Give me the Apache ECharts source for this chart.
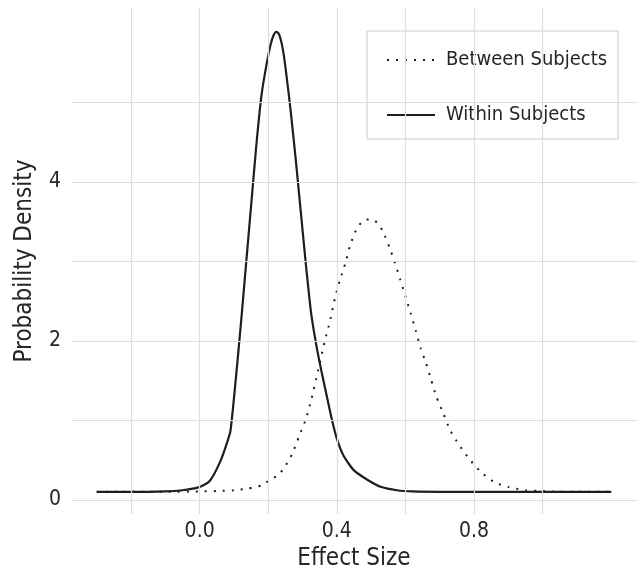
<!DOCTYPE html>
<html>
<head>
<meta charset="utf-8">
<script src="https://cdn.jsdelivr.net/npm/echarts@6/dist/echarts.min.js"></script>
<style>
html,body{margin:0;padding:0;background:#fff;}
#chart{width:637px;height:576px;}
</style>
</head>
<body>
<div id="chart"></div>
<script>
// Within Subjects density curve
const withinX = [-0.30,-0.25,-0.20,-0.15,-0.10,-0.05,-0.02,0.00,0.03,0.06,0.08,0.09,0.105,0.12,0.135,0.15,0.165,0.18,0.195,0.207,0.215,0.223,0.23,0.236,0.243,0.25,0.265,0.28,0.295,0.31,0.325,0.34,0.355,0.37,0.385,0.40,0.42,0.45,0.49,0.53,0.575,0.62,0.70,0.80,0.90,1.00,1.10,1.20];
const withinY = [0.10,0.10,0.10,0.10,0.105,0.12,0.14,0.16,0.24,0.48,0.72,0.87,1.5,2.2,2.95,3.7,4.45,5.08,5.48,5.73,5.84,5.89,5.87,5.80,5.66,5.45,4.91,4.29,3.62,2.95,2.35,1.95,1.62,1.32,1.02,0.77,0.55,0.37,0.25,0.16,0.12,0.105,0.10,0.10,0.10,0.10,0.10,0.10];
// Between Subjects density curve
const betweenX = [-0.30,-0.20,-0.10,0.00,0.05,0.10,0.14,0.16,0.18,0.205,0.225,0.245,0.27,0.29,0.31,0.325,0.345,0.365,0.38,0.395,0.41,0.425,0.44,0.46,0.48,0.50,0.52,0.535,0.555,0.57,0.585,0.60,0.615,0.63,0.645,0.66,0.675,0.69,0.71,0.73,0.755,0.785,0.82,0.86,0.90,0.95,1.00,1.05,1.10,1.20];
const betweenY = [0.10,0.10,0.10,0.105,0.11,0.12,0.14,0.16,0.18,0.25,0.30,0.39,0.58,0.80,1.02,1.25,1.62,2.0,2.25,2.55,2.78,2.98,3.22,3.43,3.52,3.53,3.48,3.37,3.16,2.97,2.77,2.56,2.35,2.13,1.90,1.72,1.51,1.30,1.09,0.88,0.70,0.52,0.35,0.22,0.16,0.12,0.11,0.10,0.10,0.10];
// Tick labels and gridlines
const xTickLabels = [0.0, 0.4, 0.8];
const xGridValues = [-0.2, 0.0, 0.2, 0.4, 0.6, 0.8, 1.0];
const yTickLabels = [0, 2, 4];
const yGridValues = [0, 1, 2, 3, 4, 5];
const seriesNames = ['Between Subjects', 'Within Subjects'];

const FONT = "'DejaVu Sans Condensed','Liberation Sans Narrow','Arial Narrow',sans-serif";
const INK = '#1e1e1e';
const TXT = '#262626';
const GRID = '#dedede';

const zip = (xs, ys) => xs.map((x, i) => [x, ys[i]]);

const chart = echarts.init(document.getElementById('chart'), null, {renderer: 'canvas'});
chart.setOption({
  animation: false,
  backgroundColor: '#ffffff',
  textStyle: {fontFamily: FONT},
  grid: {left: 71, right: 0, top: 8, bottom: 59, containLabel: false},
  xAxis: {
    type: 'value', min: -0.375, max: 1.275,
    axisLine: {show: false}, axisTick: {show: false},
    splitLine: {show: false},
    axisLabel: {customValues: xTickLabels, formatter: v => v.toFixed(1), color: TXT, fontSize: 21, fontFamily: FONT, margin: 7},
    name: 'Effect Size', nameLocation: 'middle', nameGap: 32,
    nameTextStyle: {color: TXT, fontSize: 24, fontFamily: FONT}
  },
  yAxis: {
    type: 'value', min: -0.18, max: 6.19,
    axisLine: {show: false}, axisTick: {show: false},
    splitLine: {show: false},
    axisLabel: {customValues: yTickLabels, formatter: v => String(v), color: TXT, fontSize: 21, fontFamily: FONT, margin: 10},
    name: 'Probability Density', nameLocation: 'middle', nameGap: 34,
    nameTextStyle: {color: TXT, fontSize: 24, fontFamily: FONT}
  },
  legend: {
    data: seriesNames,
    orient: 'vertical',
    left: 367, top: 31,
    padding: [19, 11, 14, 19],
    itemGap: 35,
    itemWidth: 48, itemHeight: 22,
    backgroundColor: '#ffffff',
    borderColor: '#cccccc', borderWidth: 1,
    textStyle: {color: TXT, fontSize: 20, fontFamily: FONT, padding: [0, 0, 0, 6]},
    itemStyle: {opacity: 0}
  },
  series: [
    {
      name: 'grid', type: 'line', data: [], silent: true, z: 0,
      markLine: {
        silent: true, symbol: 'none', animation: false,
        label: {show: false},
        lineStyle: {color: GRID, width: 1.2, type: 'solid'},
        emphasis: {disabled: true},
        data: xGridValues.map(v => ({xAxis: v})).concat(yGridValues.map(v => ({yAxis: v})))
      }
    },
    {
      name: seriesNames[0], type: 'line', data: zip(betweenX, betweenY),
      smooth: 0.2, symbol: 'none', z: 3,
      lineStyle: {color: INK, width: 2, type: [2, 7]},
      itemStyle: {color: INK}
    },
    {
      name: seriesNames[1], type: 'line', data: zip(withinX, withinY),
      smooth: 0.2, symbol: 'none', z: 4,
      lineStyle: {color: INK, width: 2.2, type: 'solid'},
      itemStyle: {color: INK}
    }
  ]
});
</script>
</body>
</html>
